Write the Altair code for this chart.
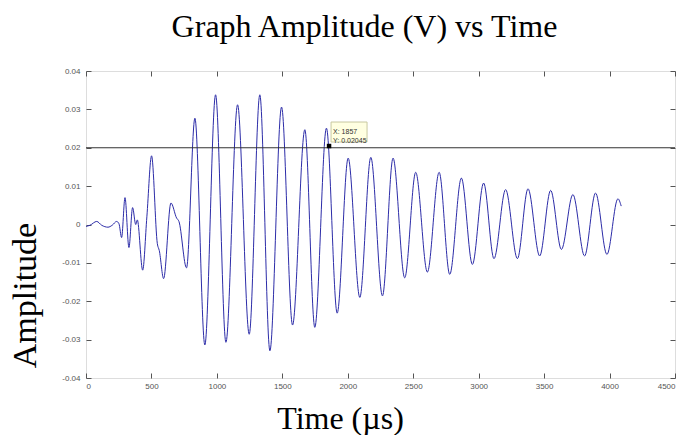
import altair as alt
import pandas as pd

# ---- data ----
time_us = [0, 30, 82, 120, 168, 200, 234, 252, 272, 298, 328, 356, 380, 392, 433, 465,
           501, 545, 560, 593, 649, 692, 710, 768, 832, 908, 990, 1069, 1158, 1247,
           1328, 1405, 1494, 1578, 1672, 1748, 1837, 1919, 2003, 2092, 2176, 2265,
           2346, 2435, 2519, 2608, 2698, 2779, 2868, 2952, 3038, 3117, 3206, 3296,
           3377, 3466, 3550, 3632, 3720, 3809, 3893, 3980, 4064, 4089]
amplitude = [-0.0005, -0.0002, 0.0008, -0.0002, -0.0007, -0.0002, 0.0008, 0.0002,
             -0.0034, 0.0070, -0.0060, 0.0044, 0.0000, 0.0012, -0.0119, 0.0020,
             0.0179, -0.0050, -0.0068, -0.0141, 0.0056, 0.0017, 0.0008, -0.0113,
             0.0277, -0.0314, 0.0338, -0.0307, 0.0312, -0.0286, 0.0338, -0.0329,
             0.0306, -0.0262, 0.0247, -0.0268, 0.0251, -0.0231, 0.0173, -0.0190,
             0.0175, -0.0186, 0.0173, -0.0139, 0.0136, -0.0124, 0.0136, -0.0130,
             0.0121, -0.0104, 0.0108, -0.0089, 0.0091, -0.0089, 0.0093, -0.0082,
             0.0089, -0.0065, 0.0078, -0.0082, 0.0082, -0.0078, 0.0067, 0.0048]

x_ticks = [0, 500, 1000, 1500, 2000, 2500, 3000, 3500, 4000, 4500]
y_ticks = [-0.04, -0.03, -0.02, -0.01, 0, 0.01, 0.02, 0.03, 0.04]
ref_level = [0.02]
tip_x = [1857]
tip_y = [0.02045]

df = pd.DataFrame({"t": time_us, "v": amplitude})
ref_df = pd.DataFrame({"v": ref_level})
tip_df = pd.DataFrame({"t": tip_x, "v": tip_y,
                       "label": [f"X: {a}\nY: {b}" for a, b in zip(tip_x, tip_y)]})

xscale = alt.Scale(domain=[0, 4500], nice=False, zero=False)
yscale = alt.Scale(domain=[-0.04, 0.04], nice=False, zero=False)

LBL = dict(labelFont="Liberation Sans", labelFontSize=8, labelColor="#555555")

x_axis = alt.Axis(orient="bottom", values=x_ticks, offset=-5, tickSize=5, format="d",
                  tickColor="#555555", domain=False, grid=False, labelPadding=4,
                  title="Time (µs)", titleFont="Liberation Serif", titleFontSize=32,
                  titleFontWeight="normal", titleColor="black", titleX=254, titleY=55,
                  titleAlign="center", titleBaseline="alphabetic", **LBL)
y_axis = alt.Axis(orient="left", values=y_ticks, offset=-5, tickSize=5,
                  tickColor="#555555", domain=False, grid=False, labelPadding=6,
                  labelExpr="datum.value == 0 ? '0' : replace(format(datum.value, '.2f'), '\u2212', '-')",
                  title="Amplitude", titleFont="Liberation Serif", titleFontSize=34,
                  titleFontWeight="normal", titleColor="black", titleX=-56, titleY=224,
                  titleAngle=-90, titleAlign="center", titleBaseline="alphabetic", **LBL)
x_top = alt.Axis(orient="top", values=x_ticks, offset=-5, tickSize=5, tickColor="#555555",
                 domain=False, grid=False, labels=False, title=None)
y_right = alt.Axis(orient="right", values=y_ticks, offset=-5, tickSize=5, tickColor="#555555",
                   domain=False, grid=False, labels=False, title=None)

line = alt.Chart(df).mark_line(interpolate="monotone", color="#2c2ca8", strokeWidth=1).encode(
    x=alt.X("t:Q", scale=xscale, axis=x_axis),
    y=alt.Y("v:Q", scale=yscale, axis=y_axis),
)

rule = alt.Chart(ref_df).mark_rule(color="#333333", strokeWidth=1).encode(
    y=alt.Y("v:Q", scale=yscale, axis=None),
)

tip_marker = alt.Chart(tip_df).mark_square(size=20, color="black", opacity=1).encode(
    x=alt.X("t:Q", scale=xscale, axis=x_top),
    y=alt.Y("v:Q", scale=yscale, axis=y_right),
)

tip_box = alt.Chart(tip_df).mark_point(
    shape="M-1.8,-1L1.8,-1L1.8,1L-1.8,1Z", size=400, filled=True,
    fill="#ffffe1", stroke="#c8c8a0", strokeWidth=1, opacity=1,
    xOffset=20, yOffset=-14,
).encode(
    x=alt.X("t:Q", scale=xscale, axis=None),
    y=alt.Y("v:Q", scale=yscale, axis=None),
)

tip_text = alt.Chart(tip_df).mark_text(
    align="left", baseline="middle", lineBreak="\n", lineHeight=9,
    font="Liberation Sans", fontSize=7, color="#333333", dx=4, dy=-14,
).encode(
    x=alt.X("t:Q", scale=xscale, axis=None),
    y=alt.Y("v:Q", scale=yscale, axis=None),
    text="label:N",
)

chart = alt.layer(line, rule, tip_box, tip_marker, tip_text).resolve_axis(
    x="independent", y="independent"
).properties(
    width=589, height=307,
    autosize=alt.AutoSizeParams(type="none"),
    padding={"left": 86, "top": 71, "right": 3, "bottom": 57},
    title=alt.TitleParams(text="Graph Amplitude (V) vs Time", font="Liberation Serif",
                          fontSize=32, fontWeight="normal", color="black",
                          anchor="middle", frame="group", dx=-16, dy=36, offset=34,
                          baseline="alphabetic"),
).configure_view(stroke="#555555", strokeWidth=1).configure(background="white")

chart.save("out.html", embed_options={"renderer": "svg", "actions": False})
